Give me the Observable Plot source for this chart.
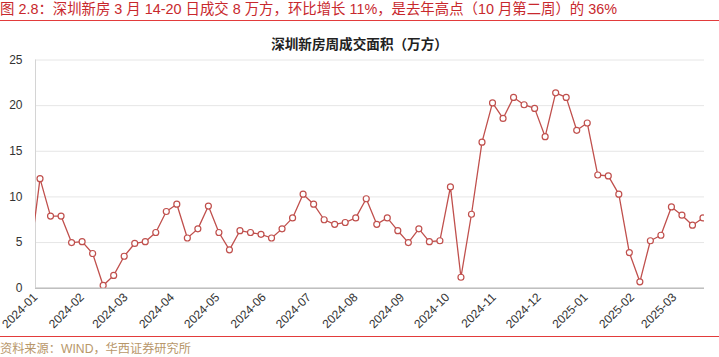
<!DOCTYPE html>
<html><head><meta charset="utf-8">
<script src="https://cdn.jsdelivr.net/npm/d3@7"></script>
<script src="https://cdn.jsdelivr.net/npm/@observablehq/plot@0.6"></script>
<style>
body{margin:0;width:719px;height:357px;position:relative;background:#fff;overflow:hidden;font-family:"Liberation Sans",Arial,"Noto Sans CJK SC",sans-serif}
#title{position:absolute;left:0;top:0px;font-size:14.4px;line-height:18px;color:#c8282d;white-space:nowrap;font-family:"Liberation Sans",Arial,"Noto Sans CJK SC",sans-serif}
.rule{position:absolute;left:0;width:719px;height:1px;background:#e23b3b}
#ctitle{position:absolute;left:0;width:719px;top:34px;text-align:center;font-weight:bold;font-size:13.6px;line-height:18px;color:#222;font-family:"Noto Sans CJK SC",sans-serif}
#chart{position:absolute;left:0;top:52px}
#source{position:absolute;left:0;top:341px;font-size:12.2px;line-height:16px;color:#b8976a;white-space:nowrap}
</style>
</head><body>
<div id="title">图 2.8：深圳新房 3 月 14-20 日成交 8 万方，环比增长 11%，是去年高点（10 月第二周）的 36%</div>
<div class="rule" style="top:20px"></div>
<div id="ctitle">深圳新房周成交面积（万方）</div>
<div id="chart"></div>
<div class="rule" style="top:336px"></div>
<div id="source">资料来源：WIND，华西证券研究所</div>
<script>
const weeks = [
"2023-12-28",
"2024-01-04","2024-01-11","2024-01-18","2024-01-25",
"2024-02-01","2024-02-08","2024-02-15","2024-02-22","2024-02-29",
"2024-03-07","2024-03-14","2024-03-21","2024-03-28",
"2024-04-04","2024-04-11","2024-04-18","2024-04-25",
"2024-05-02","2024-05-09","2024-05-16","2024-05-23","2024-05-30",
"2024-06-06","2024-06-13","2024-06-20","2024-06-27",
"2024-07-04","2024-07-11","2024-07-18","2024-07-25",
"2024-08-01","2024-08-08","2024-08-15","2024-08-22","2024-08-29",
"2024-09-05","2024-09-12","2024-09-19","2024-09-26",
"2024-10-03","2024-10-10","2024-10-17","2024-10-24","2024-10-31",
"2024-11-07","2024-11-14","2024-11-21","2024-11-28",
"2024-12-05","2024-12-12","2024-12-19","2024-12-26",
"2025-01-02","2025-01-09","2025-01-16","2025-01-23","2025-01-30",
"2025-02-06","2025-02-13","2025-02-20","2025-02-27",
"2025-03-06","2025-03-13","2025-03-20"
];
const area = [
3.0,
12.0,7.9,7.9,5.0,
5.1,3.8,0.3,1.4,3.5,
4.9,5.1,6.1,8.4,
9.2,5.5,6.5,9.0,
6.1,4.2,6.3,6.1,5.9,
5.5,6.5,7.7,10.3,
9.2,7.5,7.0,7.2,
7.7,9.8,7.0,7.7,6.3,
5.0,6.5,5.1,5.2,
11.1,1.2,8.1,16.0,20.3,
18.6,20.9,20.1,19.7,
16.6,21.4,20.9,17.3,
18.1,12.4,12.3,10.3,3.9,
0.7,5.2,5.8,8.9,
8.0,6.9,7.7
];
const monthTicks = ["2024-01","2024-02","2024-03","2024-04","2024-05","2024-06","2024-07","2024-08","2024-09","2024-10","2024-11","2024-12","2025-01","2025-02","2025-03"];
const yTicks = [0,5,10,15,20,25];
const xRange = ["2024-01-01","2025-03-21"];

const data = weeks.map((w,i)=>({date:new Date(w+"T00:00:00Z"), v:area[i]}));
const tickDates = monthTicks.map(m=>new Date(m+"-01T00:00:00Z"));
const fmt = d3.utcFormat("%Y-%m");
const color = "#c0504d";

const chart = Plot.plot({
  width:719, height:283,
  marginLeft:35, marginRight:15, marginTop:7.5, marginBottom:47.3,
  style:{fontFamily:'"Liberation Sans",Arial,sans-serif', fontSize:"12px", color:"#333", background:"transparent"},
  x:{type:"utc", domain:xRange.map(s=>new Date(s+"T00:00:00Z"))},
  y:{domain:[0,25]},
  marks:[
    Plot.gridY(yTicks,{stroke:"#e6e6e6", strokeOpacity:1}),
    Plot.ruleX([new Date(xRange[0]+"T00:00:00Z")],{stroke:"#d4d4d4"}),
    Plot.ruleY([0],{stroke:"#bfbfbf", strokeWidth:1.6}),
    Plot.axisY(yTicks,{tickSize:0, tickPadding:13, fontSize:12, fill:"#333", label:null}),
    Plot.axisX(tickDates,{tickSize:0, tickPadding:7, tickRotate:-45, tickFormat:fmt, fontSize:12, fill:"#333", label:null}),
    Plot.line(data,{x:"date", y:"v", stroke:color, strokeWidth:1.3, clip:true}),
    Plot.dot(data,{x:"date", y:"v", r:3, fill:"white", stroke:color, strokeWidth:1.2, clip:true})
  ]
});
document.getElementById("chart").appendChild(chart);
</script>
</body></html>
